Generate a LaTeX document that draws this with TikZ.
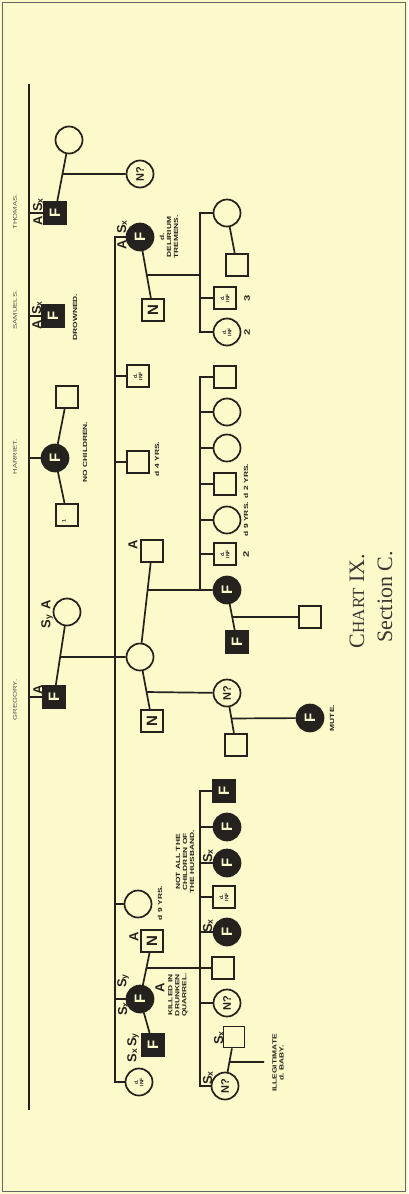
\documentclass[tikz,border=0pt]{standalone}
\usepackage{fontspec}
\usetikzlibrary{calc}
\newfontfamily\labf{Liberation Sans}
\newfontfamily\labw{Liberation Sans}[FakeStretch=1.4]
\newfontfamily\ttlf{Liberation Serif}
\definecolor{paper}{RGB}{252,250,202}
\definecolor{ink}{RGB}{36,33,30}
\newcommand\sbx[1]{\raisebox{-0.1ex}{\fontsize{8.5}{8.5}\selectfont #1}}
\tikzset{
  ln/.style={line width=1.7pt, draw=ink},
  sym/.style={draw=ink, line width=1.7pt, inner sep=0pt, fill=paper, rotate=90, text=ink,
    font=\labf\bfseries\fontsize{15}{15}\selectfont},
  sq/.style={sym, rectangle, minimum size=22.5pt},
  ci/.style={sym, circle, minimum size=27pt},
  sqf/.style={sq, fill=ink, text=paper},
  cif/.style={ci, fill=ink, text=paper},
  nq/.style={font=\labf\bfseries\fontsize{11}{11}\selectfont},
  inf/.style={align=center, font=\labf\bfseries\fontsize{5}{5.3}\selectfont},
  lab/.style={rotate=90, inner sep=0pt, text=ink, font=\labf\bfseries\fontsize{13}{13}\selectfont},
  note/.style={rotate=90, inner sep=0pt, align=center, text=ink, font=\labw\bfseries\fontsize{6}{7}\selectfont},
  nm/.style={rotate=90, inner sep=0pt, text=ink!80, font=\labw\fontsize{5.5}{6}\selectfont},
  title/.style={rotate=90, inner sep=0pt, text=ink!90, font=\ttlf\fontsize{22}{24}\selectfont},
}
\begin{document}
\begin{tikzpicture}[x=1pt,y=-1pt]
\fill[paper] (0,0) rectangle (408,1194);
\useasboundingbox (0,0) rectangle (408,1194);
\draw[line width=0.9pt, draw=gray!80!black] (2.5,2.5) rectangle (405.5,1191.5);

% generation I line
\coordinate (g1t) at (29,84);
\coordinate (g1b) at (29,1110);
\draw[ln, line width=2.4pt] (g1t) -- (g1b);

% ---------- nodes ----------
\node[sqf] (thomas) at (55,213) {F};
\node[ci] (twife) at (69,140) {};
\node[ci, nq] (nq1) at (140,174) {N?};
\node[sqf] (samuel) at (53,316) {F};
\node[cif] (harriet) at (55,458) {F};
\node[sq] (hs1) at (67,397) {};
\node[sq] (hs2) at (67,515) {};
\node[sqf] (gregory) at (54,697) {F};
\node[ci] (gwife) at (67,612) {};

\node[cif] (delir) at (140,237) {F};
\node[sq] (nsq1) at (153,310) {N};
\node[ci] (c213) at (227,213) {};
\node[sq] (s265) at (237,265) {};
\node[sq, inf] (i298) at (225,298) {d.\\INF};
\node[ci, inf] (i332) at (227,332) {d.\\INF};
\node[sq, inf] (i376) at (138,376) {d.\\INF};
\node[sq] (s462) at (138,462) {};
\node[ci] (central) at (140,657) {};
\node[sq] (asq) at (152,551) {};
\node[sq] (nsq2) at (152,721) {N};

\node[sq] (k377) at (225,377) {};
\node[ci] (k412) at (227,412) {};
\node[ci] (k448) at (227,448) {};
\node[sq] (k484) at (225,484) {};
\node[ci] (k520) at (227,520) {};
\node[sq, inf] (k554) at (225,554) {d.\\INF};
\node[cif] (fc1) at (227,590) {F};
\node[sqf] (fsq1) at (237,642) {F};
\node[sq] (s617) at (310,617) {};
\node[ci, nq] (nq2) at (227,693) {N?};
\node[sq] (s745) at (236,745) {};
\node[cif] (mute) at (310,718) {F};

\node[ci] (c904) at (138,904) {};
\node[sq] (nsq3) at (152,941) {N};
\node[cif] (fc3) at (140,999) {F};
\node[sqf] (fsq3) at (153,1045) {F};
\node[ci, inf] (infc2) at (139,1082) {d.\\INF};

\node[sqf] (k791) at (224,791) {F};
\node[cif] (k827) at (227,827) {F};
\node[cif] (k863) at (227,863) {F};
\node[sq, inf] (k897) at (224,897) {d.\\INF};
\node[cif] (k932) at (227,932) {F};
\node[sq] (k968) at (223,968) {};
\node[ci, nq] (k1003) at (227,1003) {N?};
\node[ci, nq] (k1086) at (225,1086) {N?};
\node[sq, minimum size=21pt] (sx1037) at (234,1037) {};

% ---------- connectors ----------
\draw[ln] (thomas) -- (thomas -| g1t);
\draw[ln] (samuel) -- (samuel -| g1t);
\draw[ln] (harriet) -- (harriet -| g1t);
\draw[ln] (gregory) -- (gregory -| g1t);

\draw[ln] (twife) -- (thomas);
\coordinate (m1) at ($(twife)!0.466!(thomas)$);
\draw[ln] (m1) -- (nq1);

\draw[ln] (harriet) -- (hs1);
\draw[ln] (harriet) -- (hs2);

\draw[ln] (gwife) -- (gregory);
\coordinate (m2) at ($(gwife)!0.529!(gregory)$);
\draw[ln] (m2) -- (central);

% generation II line
\coordinate (g2t) at (115,237);
\coordinate (g2b) at (115,1082);
\draw[ln] (delir) -- (g2t) -- (g2b) -- (infc2);
\draw[ln] (i376) -- (i376 -| g2t);
\draw[ln] (s462) -- (s462 -| g2t);
\draw[ln] (c904) -- (c904 -| g2t);
\draw[ln] (fc3) -- (fc3 -| g2t);

% delirium family
\draw[ln] (delir) -- (nsq1);
\coordinate (m3) at ($(delir)!0.52!(nsq1)$);
\coordinate (s1t) at (200,213);
\coordinate (s1b) at (200,332);
\draw[ln] (m3) -- (m3 -| s1t);
\draw[ln] (c213) -- (s1t) -- (s1b) -- (i332);
\draw[ln] (i298) -- (i298 -| s1t);
\draw[ln] (c213) -- (s265);

% central family
\draw[ln] (central) -- (asq);
\draw[ln] (central) -- (nsq2);
\coordinate (m4) at ($(central)!0.632!(asq)$);
\draw[ln] (m4) -- (fc1);
\coordinate (s2t) at (200,377);
\draw[ln] (k377) -- (s2t) -- (s2t |- fc1);
\foreach \k in {k412,k448,k484,k520,k554} \draw[ln] (\k) -- (\k -| s2t);
\draw[ln] (fc1) -- (fsq1);
\coordinate (m5) at ($(fc1)!0.519!(fsq1)$);
\draw[ln] (m5) -- (s617);
\coordinate (m6) at ($(central)!0.547!(nsq2)$);
\draw[ln] (m6) -- (nq2);
\draw[ln] (nq2) -- (s745);
\coordinate (m7) at ($(nq2)!0.49!(s745)$);
\draw[ln] (m7) -- (mute);

% killed family
\draw[ln] (nsq3) -- (fc3);
\draw[ln] (fc3) -- (fsq3);
\coordinate (m8) at ($(nsq3)!0.466!(fc3)$);
\draw[ln] (m8) -- (k968);
\coordinate (s3t) at (200,791);
\draw[ln] (k791) -- (s3t) -- (s3t |- k1086) -- (k1086);
\foreach \k in {k827,k863,k897,k932,k1003} \draw[ln] (\k) -- (\k -| s3t);
\draw[ln] (k1086) -- (sx1037);
\coordinate (m9) at ($(k1086)!0.49!(sx1037)$);
\coordinate (iend) at (264,1062);
\draw[ln] (m9) -- (iend);

% ---------- labels ----------
\node[nm] at (15,212) {THOMAS.};
\node[nm] at (15,310) {SAMUELS.};
\node[nm] at (15,457) {HARRIET.};
\node[nm] at (15,700) {GREGORY.};

\node[lab] at (38,221) {A};
\node[lab] at (38,205) {S\sbx{x}};
\node[lab] at (37,325) {A};
\node[lab] at (37,308) {S\sbx{x}};
\node[lab] at (38,690) {A};
\node[lab] at (47,614) {S\sbx{y}\hspace{6pt}A};
\node[lab] at (122,227) {S\sbx{x}};
\node[lab] at (122,245) {A};
\node[lab] at (133,545) {A};
\node[lab] at (134,937) {A};
\node[lab] at (123,981) {S\sbx{y}};
\node[lab] at (123,1009) {S\sbx{x}};
\node[lab] at (160,988) {A};
\node[lab] at (133,1048) {S\sbx{x}\,S\sbx{y}};
\node[lab] at (208,856) {S\sbx{x}};
\node[lab] at (208,926) {S\sbx{x}};
\node[lab] at (208,1078) {S\sbx{x}};
\node[lab] at (219,1038) {S\sbx{x}};

\node[note] at (75,317) {DROWNED.};
\node[note] at (85,452) {NO CHILDREN.};
\node[note] at (169,237) {d.\\DELIRIUM\\TREMENS.};
\node[note] at (157,459) {d 4 YRS.};
\node[note, font=\labw\bfseries\fontsize{8}{8}\selectfont] at (247,298) {3};
\node[note, font=\labw\bfseries\fontsize{8}{8}\selectfont] at (247,332) {2};
\node[note, font=\labw\bfseries\fontsize{8}{8}\selectfont] at (246,554) {2};
\node[note] at (246,500) {d 9 YRS.\hspace{4pt}d 2 YRS.};
\node[note] at (332,718) {MUTE.};
\node[note] at (185,862) {NOT ALL THE\\CHILDREN OF\\THE HUSBAND.};
\node[note] at (160,903) {d 9 YRS.};
\node[note] at (178,995) {KILLED IN\\DRUNKEN\\QUARREL.};
\node[note] at (278,1063) {ILLEGITIMATE\\d. BABY.};
\node[note, font=\labf\bfseries\fontsize{5}{5}\selectfont] at (64,521) {1};

\node[title] at (357,601) {C{\fontsize{17}{18}\selectfont HART} IX.};
\node[title] at (385,597) {Section C.};
\end{tikzpicture}
\end{document}
